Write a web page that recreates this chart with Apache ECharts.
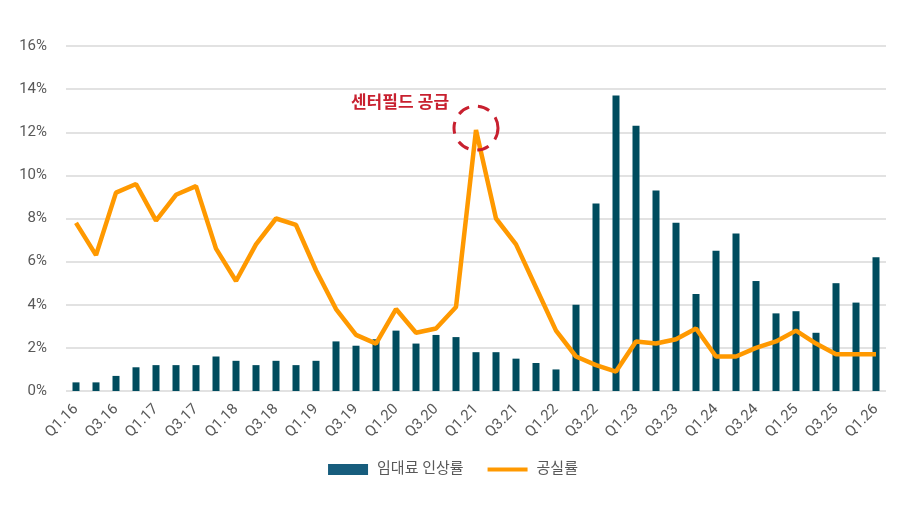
<!DOCTYPE html>
<html>
<head>
<meta charset="utf-8">
<script src="https://cdn.jsdelivr.net/npm/echarts@6/dist/echarts.min.js"></script>
<style>
  html, body { margin: 0; padding: 0; background: #fff; }
  #chart { width: 906px; height: 510px; }
</style>
</head>
<body>
<div id="chart"></div>
<script>
// 분기 (Q1.16 ~ Q1.26)
var quarters = [];
for (var y = 16; y <= 26; y++) {
    for (var q = 1; q <= 4; q++) {
        if (y === 26 && q > 1) break;
        quarters.push('Q' + q + '.' + y);
    }
}

// 임대료 인상률 (%)
var rentGrowth = [0.4, 0.4, 0.7, 1.1, 1.2, 1.2, 1.2, 1.6, 1.4, 1.2, 1.4, 1.2,
    1.4, 2.3, 2.1, 2.4, 2.8, 2.2, 2.6, 2.5, 1.8, 1.8, 1.5, 1.3, 1.0, 4.0,
    8.7, 13.7, 12.3, 9.3, 7.8, 4.5, 6.5, 7.3, 5.1, 3.6, 3.7, 2.7, 5.0, 4.1, 6.2];

// 공실률 (%)
var vacancy = [7.8, 6.3, 9.2, 9.6, 7.9, 9.1, 9.5, 6.6, 5.1, 6.8, 8.0, 7.7,
    5.6, 3.8, 2.6, 2.2, 3.8, 2.7, 2.9, 3.9, 12.1, 8.0, 6.8, 4.8, 2.8, 1.6,
    1.2, 0.9, 2.3, 2.2, 2.4, 2.9, 1.6, 1.6, 2.0, 2.3, 2.8, 2.2, 1.7, 1.7, 1.7];

var yTicks = [0, 2, 4, 6, 8, 10, 12, 14, 16];

var note = { quarter: 'Q1.21', value: 12.1, text: '센터필드 공급' };

var font = 'Roboto, "Noto Sans CJK KR", sans-serif';
var myChart = echarts.init(document.getElementById('chart'));

var option = {
    animation: false,
    backgroundColor: '#fff',
    textStyle: { fontFamily: font },
    grid: {
        left: 66,
        right: 20,
        top: 46,
        bottom: 119
    },
    legend: {
        top: 457,
        left: 'center',
        itemWidth: 40,
        itemHeight: 11,
        itemGap: 24,
        textStyle: {
            color: '#595959',
            fontSize: 15,
            fontFamily: font,
            padding: [0, 0, 0, 4]
        },
        data: [
            { name: '임대료 인상률', icon: 'rect', itemStyle: { color: '#175d7d' } },
            { name: '공실률', icon: 'path://M0,0 L40,0 L40,4 L0,4 Z', itemStyle: { color: '#ff9900' } }
        ]
    },
    xAxis: {
        type: 'category',
        data: quarters,
        axisTick: { show: false },
        axisLine: { show: false },
        axisLabel: {
            interval: 1,
            rotate: 45,
            margin: 16,
            color: '#595959',
            fontSize: 15,
            fontFamily: font
        }
    },
    yAxis: {
        type: 'value',
        min: yTicks[0],
        max: yTicks[yTicks.length - 1],
        interval: 2,
        axisLabel: {
            formatter: '{value}%',
            color: '#595959',
            fontSize: 15,
            margin: 19,
            fontFamily: font
        },
        splitLine: {
            lineStyle: { color: '#d9d9d9', width: 1.5 }
        }
    },
    series: [
        {
            name: '임대료 인상률',
            type: 'bar',
            data: rentGrowth,
            barWidth: 7,
            itemStyle: { color: '#004c5e' }
        },
        {
            name: '공실률',
            type: 'line',
            data: vacancy,
            symbol: 'none',
            lineStyle: { color: '#ff9900', width: 4.5 },
            itemStyle: { color: '#ff9900' },
            z: 3,
            markPoint: {
                silent: true,
                data: [
                    {
                        coord: [note.quarter, note.value],
                        symbol: 'circle',
                        symbolSize: 44,
                        symbolOffset: [0, -2],
                        itemStyle: {
                            color: 'rgba(0,0,0,0)',
                            borderColor: '#c8202f',
                            borderWidth: 3,
                            borderType: [12, 9]
                        },
                        label: { show: false }
                    },
                    {
                        coord: [note.quarter, note.value],
                        symbol: 'circle',
                        symbolSize: 0,
                        label: {
                            show: true,
                            formatter: note.text,
                            offset: [-76, -26],
                            color: '#c8202f',
                            fontSize: 17,
                            fontWeight: 'bold',
                            fontFamily: font
                        }
                    }
                ]
            }
        }
    ]
};
myChart.setOption(option);
</script>
</body>
</html>
